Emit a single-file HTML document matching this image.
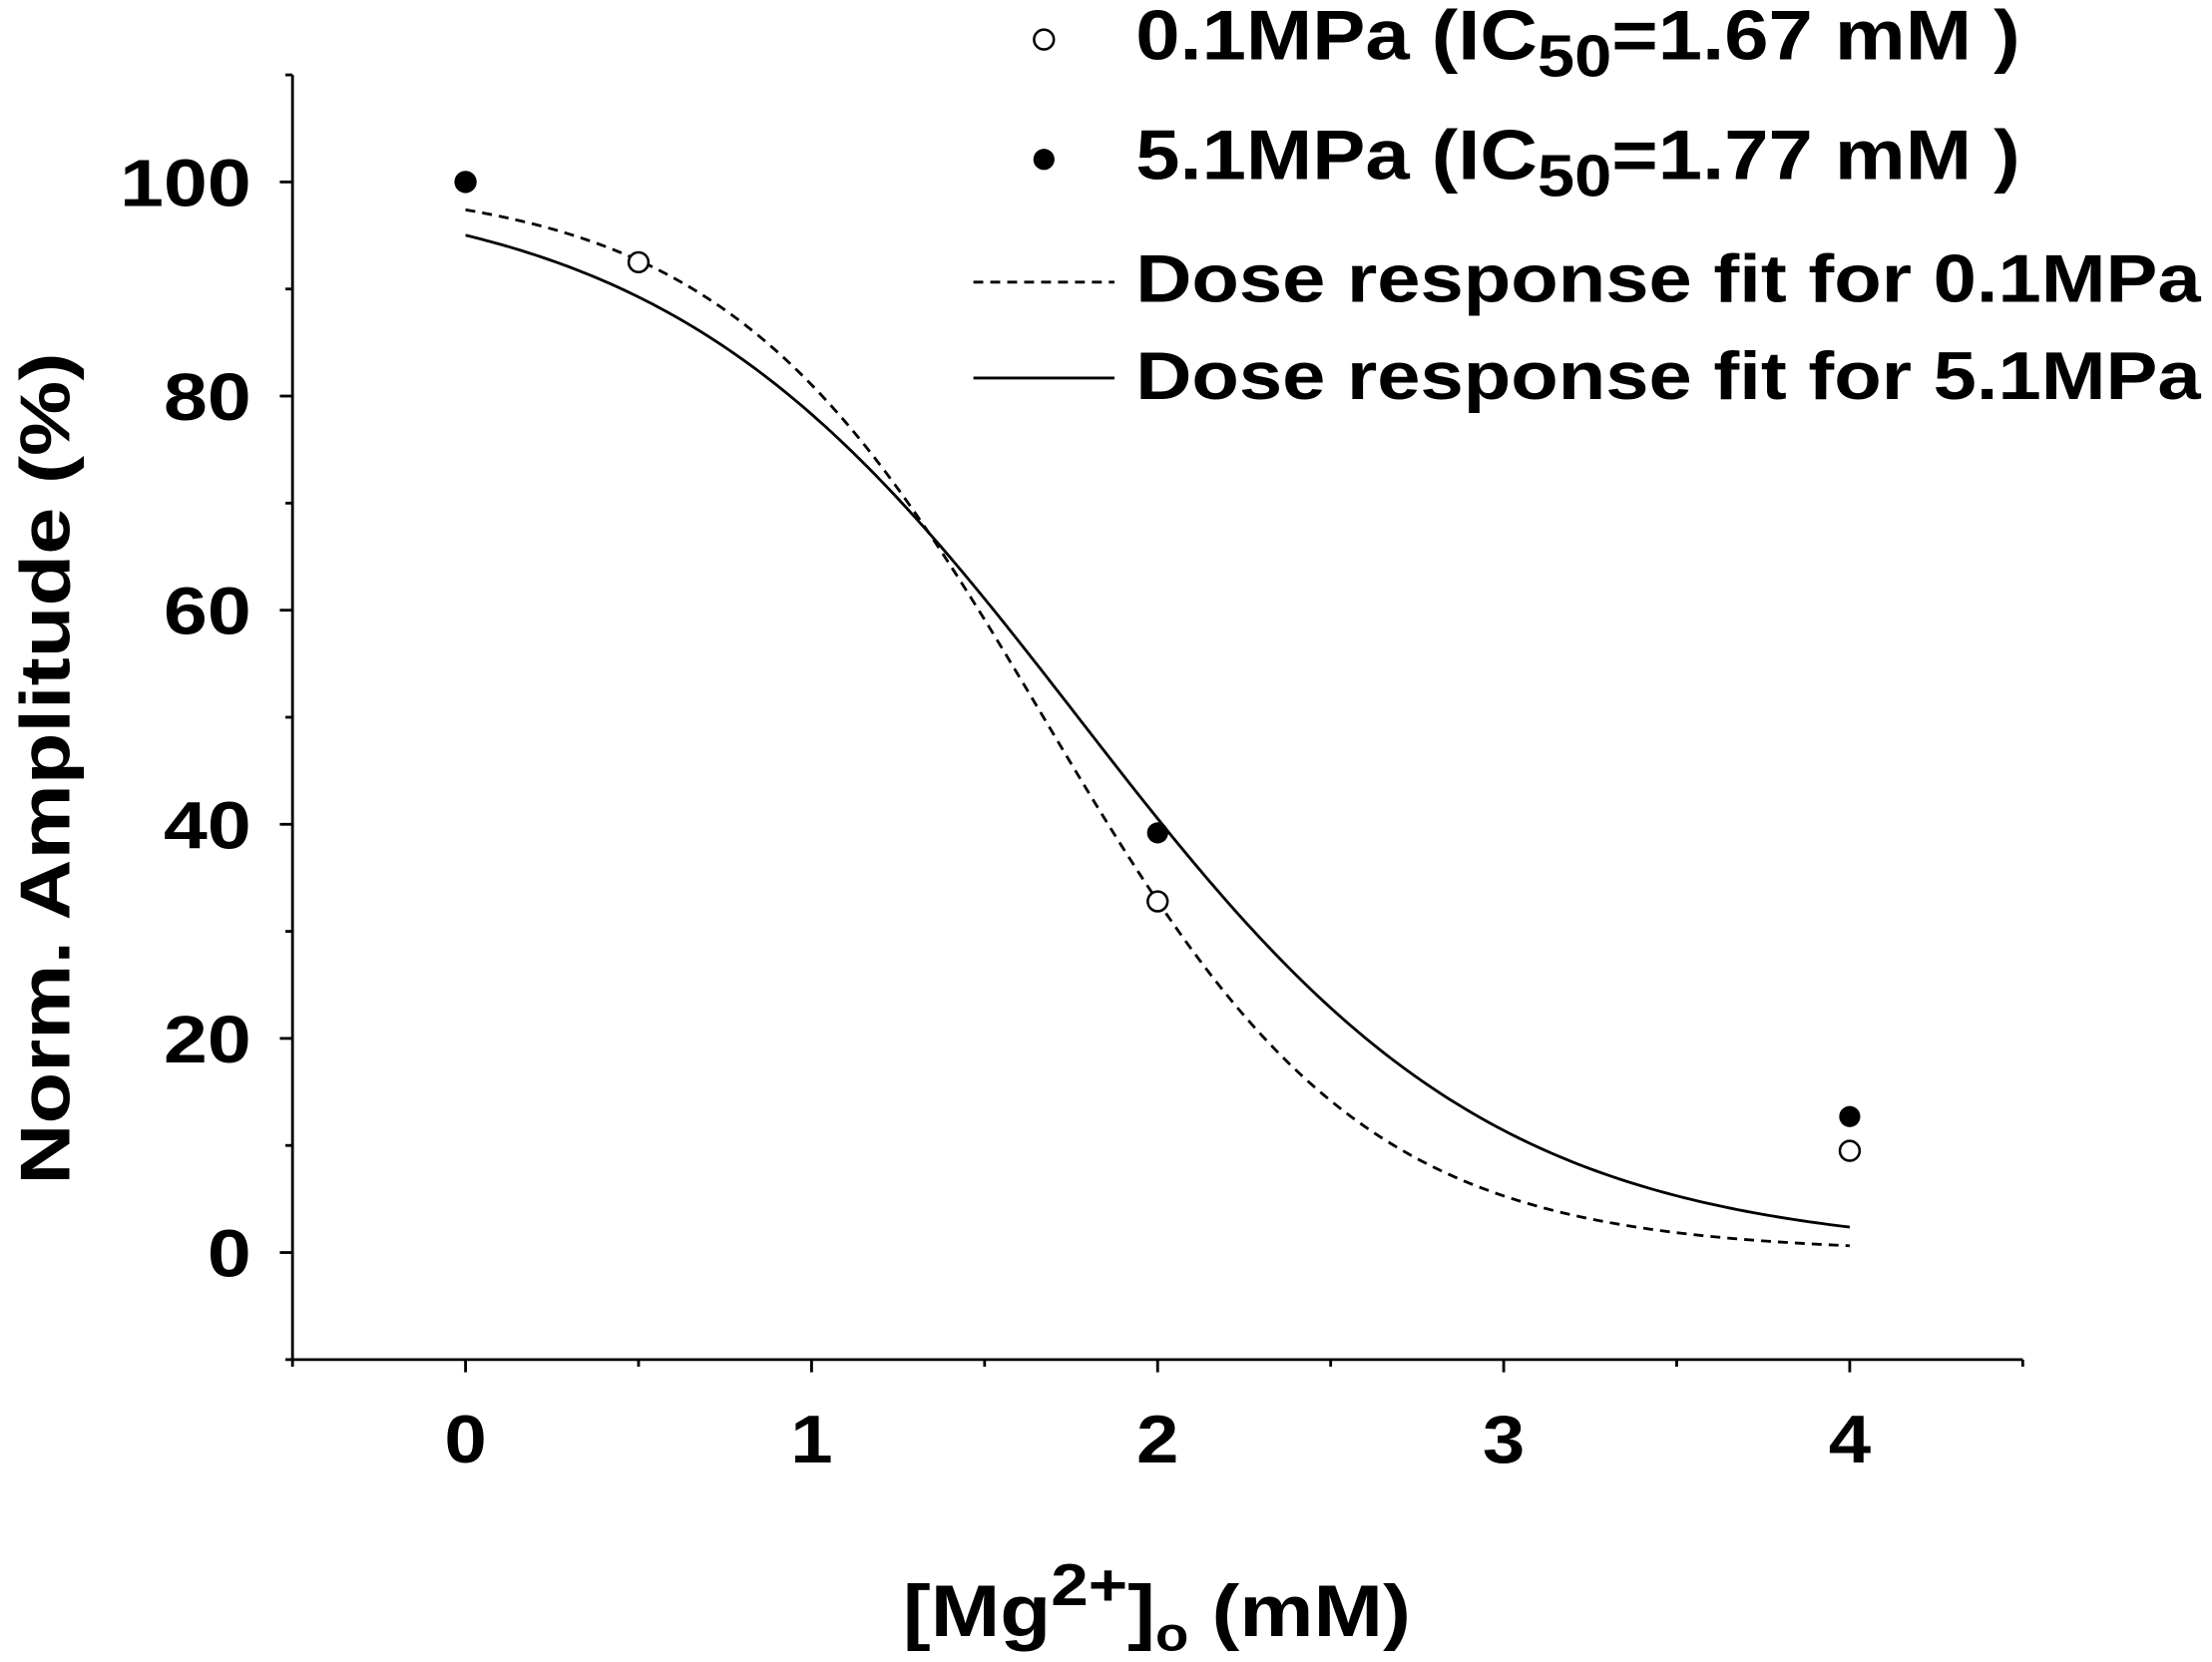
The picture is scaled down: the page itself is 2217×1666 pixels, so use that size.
<!DOCTYPE html>
<html><head><meta charset="utf-8"><style>
html,body{margin:0;padding:0;background:#fff;}
svg{display:block;}
text{font-family:"Liberation Sans",Arial,sans-serif;font-weight:bold;fill:#000;}
</style></head><body>
<svg id="chart" width="2217" height="1666" viewBox="0 0 1568 1178.3" xmlns="http://www.w3.org/2000/svg">
<g id="axes"></g>
<g id="curves"></g>
<g id="points"></g>
<text transform="translate(49,545) rotate(-90)" text-anchor="middle" font-size="50" textLength="590" lengthAdjust="spacingAndGlyphs">Norm. Amplitude (%)</text>
<text x="640" y="1160" font-size="52" textLength="360" lengthAdjust="spacingAndGlyphs">[Mg<tspan dy="-22" font-size="42">2+</tspan><tspan dy="22">]</tspan><tspan dy="10" font-size="34">o</tspan><tspan dy="-10"> (mM)</tspan></text>
<g>
 <circle cx="740" cy="28" r="7" fill="#fff" stroke="#000" stroke-width="1.8"/>
 <text x="805" y="42" font-size="50" textLength="627" lengthAdjust="spacingAndGlyphs">0.1MPa (IC<tspan dy="12" font-size="42">50</tspan><tspan dy="-12">=1.67 mM )</tspan></text>
 <circle cx="740" cy="113" r="7.5" fill="#000"/>
 <text x="805" y="127" font-size="50" textLength="627" lengthAdjust="spacingAndGlyphs">5.1MPa (IC<tspan dy="12" font-size="42">50</tspan><tspan dy="-12">=1.77 mM )</tspan></text>
 <line x1="690" y1="200" x2="790" y2="200" stroke="#000" stroke-width="2" stroke-dasharray="7,5"/>
 <text x="805" y="214" font-size="48" textLength="755" lengthAdjust="spacingAndGlyphs">Dose response fit for 0.1MPa</text>
 <line x1="690" y1="268" x2="790" y2="268" stroke="#000" stroke-width="2"/>
 <text x="805" y="283" font-size="48" textLength="755" lengthAdjust="spacingAndGlyphs">Dose response fit for 5.1MPa</text>
</g>
</svg>
<script>
const xTicks = [0, 1, 2, 3, 4];
const yTicks = [0, 20, 40, 60, 80, 100];
const xOpen = [0, 0.5, 2, 4];
const yOpen = [100, 92.5, 32.8, 9.5];
const xFilled = [0, 2, 4];
const yFilled = [100, 39.2, 12.7];
const fitX0 = [1.67, 1.77];
const fitDx = [0.461, 0.60];
const fitA1 = [100, 100];
const fitA2 = [0, 0];

const NS = "http://www.w3.org/2000/svg";
const X = v => 330 + (v) * 245.3;
const Y = v => 888 - v * 7.59;
function mk(tag, attrs, parent) {
  const e = document.createElementNS(NS, tag);
  for (const k in attrs) e.setAttribute(k, attrs[k]);
  parent.appendChild(e);
  return e;
}
const axes = document.getElementById('axes');
const xmin = -0.5, xmax = 4.5, ymin = -10, ymax = 110;
let el;
el = mk('line', {x1: X(xmin), y1: Y(ymin), x2: X(xmax), y2: Y(ymin), stroke: '#000', 'stroke-width': 2}, axes);


el = mk('line', {x1: X(xmin), y1: Y(ymin), x2: X(xmin), y2: Y(ymax), stroke: '#000', 'stroke-width': 2}, axes);


for (let v = xmin; v <= xmax + 1e-9; v += 0.5) {
  const major = Math.abs(v - Math.round(v)) < 1e-9;
  el = mk('line', {x1: X(v), y1: Y(ymin), x2: X(v), y2: Y(ymin) + (major ? 9 : 5), stroke: '#000', 'stroke-width': 2}, axes);
  
  
}
xTicks.forEach(t => {
  el = mk('text', {x: X(t), y: 1037, 'text-anchor': 'middle', 'font-size': 48, textLength: String(t).length * 30, lengthAdjust: 'spacingAndGlyphs'}, axes);
  el.textContent = t;
  
  
});
for (let v = ymin; v <= ymax + 1e-9; v += 10) {
  const major = (Math.round(v) % 20 === 0);
  el = mk('line', {x1: X(xmin), y1: Y(v), x2: X(xmin) - (major ? 9 : 5), y2: Y(v), stroke: '#000', 'stroke-width': 2}, axes);
  
  
}
yTicks.forEach(t => {
  el = mk('text', {x: 178, y: Y(t) + 17, 'text-anchor': 'end', 'font-size': 47, textLength: String(t).length * 31, lengthAdjust: 'spacingAndGlyphs'}, axes);
  el.textContent = t;
  
  
});
const curves = document.getElementById('curves');
const dashes = ['7,5', 'none'];
const names = ['fit-curve-0.1mpa', 'fit-curve-5.1mpa'];
for (let s = 0; s < 2; s++) {
  let d = '';
  for (let i = 0; i <= 200; i++) {
    const x = 4 * i / 200;
    const y = fitA2[s] + (fitA1[s] - fitA2[s]) / (1 + Math.exp((x - fitX0[s]) / fitDx[s]));
    d += (i ? 'L' : 'M') + X(x).toFixed(2) + ',' + Y(y).toFixed(2);
  }
  el = mk('path', {d: d, fill: 'none', stroke: '#000', 'stroke-width': 2, 'stroke-dasharray': dashes[s]}, curves);
  
  
}
const pts = document.getElementById('points');
xFilled.forEach((x, i) => {
  el = mk('circle', {cx: X(x), cy: Y(yFilled[i]), r: 7.5, fill: '#000'}, pts);
  
  
});
xOpen.forEach((x, i) => {
  el = mk('circle', {cx: X(x), cy: Y(yOpen[i]), r: 7, fill: (x === 0 ? 'none' : '#fff'), stroke: '#000', 'stroke-width': 1.8}, pts);
  
  
});
</script>
</body></html>
